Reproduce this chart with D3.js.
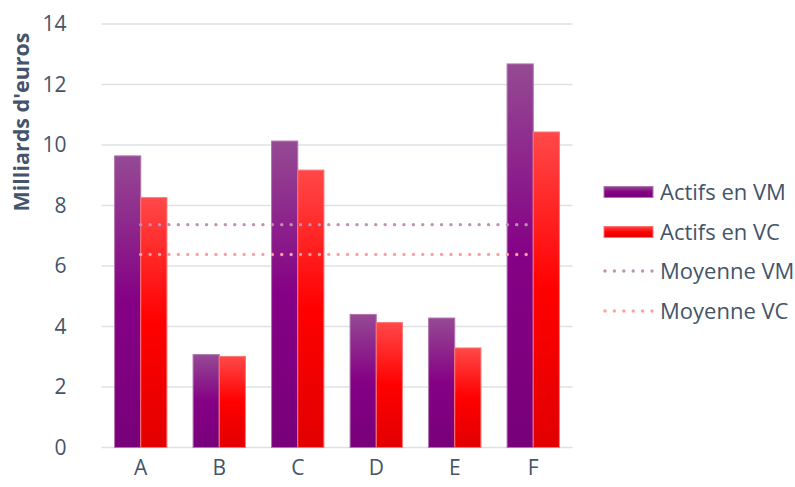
<!DOCTYPE html>
<html>
<head>
<meta charset="utf-8">
<script src="https://cdn.jsdelivr.net/npm/d3@7"></script>
<style>
  html, body { margin: 0; padding: 0; background: #ffffff; }
  svg { display: block; font-family: "Open Sans", "Noto Sans", sans-serif; }
</style>
</head>
<body>
<div id="chart"></div>
<script>
// Categories and series (milliards d'euros)
const categories = ["A", "B", "C", "D", "E", "F"];
const actifsVM = [9.64, 3.07, 10.13, 4.40, 4.28, 12.68];
const actifsVC = [8.26, 3.01, 9.17, 4.13, 3.29, 10.43];
const yTicks = [0, 2, 4, 6, 8, 10, 12, 14];
const seriesNames = ["Actifs en VM", "Actifs en VC", "Moyenne VM", "Moyenne VC"];

const moyenneVM = d3.mean(actifsVM);
const moyenneVC = d3.mean(actifsVC);

const W = 795, H = 487;
const margin = { left: 101.5, right: 222.5, top: 24, bottom: 39.5 };
const textColor = "#44546a";

const svg = d3.select("#chart").append("svg")
  .attr("width", W).attr("height", H);

const defs = svg.append("defs");
function vGrad(id, stops) {
  const g = defs.append("linearGradient").attr("id", id)
    .attr("x1", 0).attr("y1", 0).attr("x2", 0).attr("y2", 1);
  stops.forEach(s => g.append("stop").attr("offset", s[0]).attr("stop-color", s[1]));
}
vGrad("gradVM", [[0, "#954a93"], [0.5, "#850085"], [1, "#78007a"]]);
vGrad("gradVC", [[0, "#ff4848"], [0.5, "#ff0000"], [1, "#e20000"]]);

const x0 = d3.scaleBand().domain(categories)
  .range([margin.left, W - margin.right]).paddingInner(1 / 3).paddingOuter(1 / 6);
const x1 = d3.scaleBand().domain(["VM", "VC"]).range([0, x0.bandwidth()]);
const y = d3.scaleLinear().domain([0, 14]).range([H - margin.bottom, margin.top]);

// Horizontal gridlines
svg.append("g").selectAll("line").data(yTicks).join("line")
  .attr("x1", margin.left).attr("x2", W - margin.right)
  .attr("y1", d => y(d)).attr("y2", d => y(d))
  .attr("stroke", "#dde1e7").attr("stroke-width", 1.5);

// Y axis labels
const yAxis = svg.append("g")
  .attr("transform", `translate(${margin.left - 35},0)`)
  .call(d3.axisLeft(y).tickValues(yTicks).tickSize(0).tickPadding(0));
yAxis.select(".domain").remove();
yAxis.selectAll("text").attr("font-size", 21).attr("fill", textColor)
  .attr("font-family", "Open Sans, sans-serif");

// X axis labels
const xAxis = svg.append("g")
  .attr("transform", `translate(0,${H - margin.bottom})`)
  .call(d3.axisBottom(x0).tickSize(0).tickPadding(13));
xAxis.select(".domain").remove();
xAxis.selectAll("text").attr("font-size", 21).attr("fill", textColor)
  .attr("font-family", "Open Sans, sans-serif");

// Axis title
svg.append("text")
  .attr("transform", `translate(29,${122}) rotate(-90)`)
  .attr("text-anchor", "middle")
  .attr("font-size", 21.5).attr("font-weight", "bold").attr("fill", textColor)
  .text("Milliards d'euros");

// Bars
const groups = svg.append("g").selectAll("g").data(categories).join("g")
  .attr("transform", d => `translate(${x0(d)},0)`);
groups.append("rect")
  .attr("x", x1("VM")).attr("width", x1.bandwidth())
  .attr("y", (d, i) => y(actifsVM[i]))
  .attr("height", (d, i) => y(0) - y(actifsVM[i]))
  .attr("fill", "url(#gradVM)").attr("stroke", "#b174b0").attr("stroke-width", 1);
groups.append("rect")
  .attr("x", x1("VC")).attr("width", x1.bandwidth())
  .attr("y", (d, i) => y(actifsVC[i]))
  .attr("height", (d, i) => y(0) - y(actifsVC[i]))
  .attr("fill", "url(#gradVC)").attr("stroke", "#ff7474").attr("stroke-width", 1);

// Average lines (round dotted)
const xStart = x0(categories[0]) + x0.bandwidth() / 2;
const xEnd = x0(categories[categories.length - 1]) + x0.bandwidth() / 2;
const dotStyle = sel => sel.attr("stroke-width", 3.4)
  .attr("stroke-linecap", "round").attr("stroke-dasharray", "0 9.4");
svg.append("line")
  .attr("x1", xStart).attr("x2", xEnd)
  .attr("y1", y(moyenneVM)).attr("y2", y(moyenneVM))
  .attr("stroke", "#c190b4").call(dotStyle);
svg.append("line")
  .attr("x1", xStart).attr("x2", xEnd)
  .attr("y1", y(moyenneVC)).attr("y2", y(moyenneVC))
  .attr("stroke", "#ffa0a0").call(dotStyle);

// Legend
const legend = svg.append("g").attr("transform", "translate(604,0)");
const rowsY = [192, 232, 271, 311];
legend.append("rect").attr("x", 0).attr("y", rowsY[0] - 5.5).attr("width", 49).attr("height", 11)
  .attr("fill", "url(#gradVM)").attr("stroke", "#b174b0").attr("stroke-width", 1);
legend.append("rect").attr("x", 0).attr("y", rowsY[1] - 5.5).attr("width", 49).attr("height", 11)
  .attr("fill", "url(#gradVC)").attr("stroke", "#ff7474").attr("stroke-width", 1);
legend.append("line").attr("x1", 1).attr("x2", 50).attr("y1", rowsY[2]).attr("y2", rowsY[2])
  .attr("stroke", "#c190b4").call(dotStyle);
legend.append("line").attr("x1", 1).attr("x2", 50).attr("y1", rowsY[3]).attr("y2", rowsY[3])
  .attr("stroke", "#ffa0a0").call(dotStyle);
legend.selectAll("text").data(seriesNames).join("text")
  .attr("x", 56).attr("y", (d, i) => rowsY[i])
  .attr("dy", "0.35em")
  .attr("font-size", 22).attr("fill", textColor)
  .text(d => d);
</script>
</body>
</html>
